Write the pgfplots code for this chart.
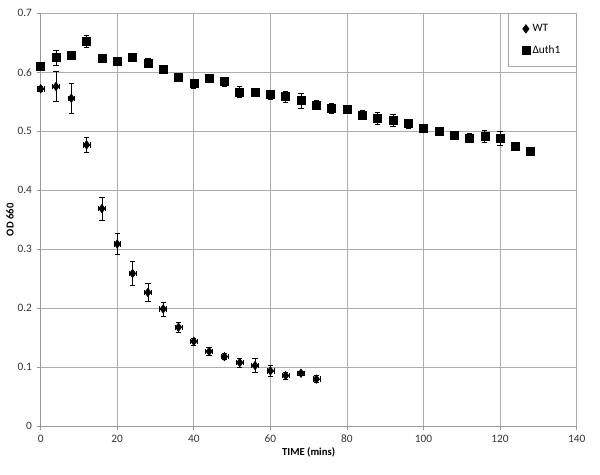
\documentclass[border=0pt]{standalone}
\usepackage{pgfplots}
\pgfplotsset{compat=1.18}
\usepackage{pgfplotstable}
\usepackage{fontspec}
\setmainfont{Carlito}
\pgfplotstableread{
t y ey
0 0.572 0.004
4 0.576 0.025
8 0.556 0.025
12 0.477 0.013
16 0.369 0.019
20 0.309 0.018
24 0.259 0.020
28 0.227 0.015
32 0.199 0.012
36 0.168 0.008
40 0.144 0.006
44 0.127 0.007
48 0.118 0.005
52 0.108 0.008
56 0.103 0.012
60 0.094 0.009
64 0.086 0.006
68 0.090 0.004
72 0.080 0.006
}\wt
\pgfplotstableread{
t y ey
0 0.610 0.004
4 0.625 0.013
8 0.629 0.006
12 0.653 0.010
16 0.623 0.004
20 0.618 0.004
24 0.625 0.005
28 0.616 0.008
32 0.606 0.004
36 0.592 0.004
40 0.581 0.008
44 0.590 0.005
48 0.584 0.008
52 0.567 0.010
56 0.566 0.007
60 0.562 0.008
64 0.559 0.009
68 0.552 0.013
72 0.545 0.007
76 0.539 0.009
80 0.538 0.004
84 0.528 0.008
88 0.522 0.010
92 0.519 0.010
96 0.513 0.008
100 0.505 0.003
104 0.500 0.004
108 0.493 0.005
112 0.489 0.008
116 0.492 0.010
120 0.488 0.012
124 0.475 0.003
128 0.467 0.004
}\uth
\begin{document}
\begin{tikzpicture}
\begin{axis}[
  scale only axis,
  width=402pt, height=309.75pt,
  xmin=0, xmax=140, ymin=0, ymax=0.7,
  xtick={0,20,...,140},
  ytick={0,0.1,...,0.7},
  yticklabel style={/pgf/number format/fixed, /pgf/number format/precision=1},
  /pgf/number format/assume math mode=true,
  axis lines=left,
  axis line style={gray!80, -},
  x axis line style={-}, y axis line style={-},
  grid=major,
  major grid style={gray!65, line width=0.55pt},
  tick style={gray!80, line width=0.5pt},
  tick align=outside,
  major tick length=3pt,
  ticklabel style={font=\fontsize{8.5}{10}\selectfont, text=black!80},
  xlabel={\textbf{TIME (mins)}},
  ylabel={\textbf{OD 660}},
  label style={font=\fontsize{8}{9}\selectfont},
  xlabel style={yshift=3pt},
  ylabel style={yshift=-4pt},
  legend style={at={(1,1)}, anchor=north east, draw=gray!70, font=\fontsize{8.5}{10}\selectfont,
    row sep=5pt, inner xsep=10pt, inner ysep=6pt, legend cell align=left},
  clip=false,
]
\addplot[only marks, mark=diamond*, mark size=3.2pt, mark options={scale=1}, black,
  error bars/.cd, y dir=both, y explicit, x dir=both, x fixed=0.9,
  error bar style={black, line width=0.5pt}, error mark options={rotate=90, mark size=2pt}]
  table[x=t, y=y, y error=ey] {\wt};
\addlegendentry{WT}
\addplot[only marks, mark=square*, mark size=3pt, black,
  error bars/.cd, y dir=both, y explicit,
  error bar style={black, line width=0.5pt}, error mark options={rotate=90, mark size=2pt}]
  table[x=t, y=y, y error=ey] {\uth};
\addlegendentry{Δuth1}
\end{axis}
\useasboundingbox ([shift={(-30.5pt,-36.25pt)}]current axis.south west) rectangle ([shift={(17.5pt,10pt)}]current axis.north east);
\end{tikzpicture}
\end{document}
